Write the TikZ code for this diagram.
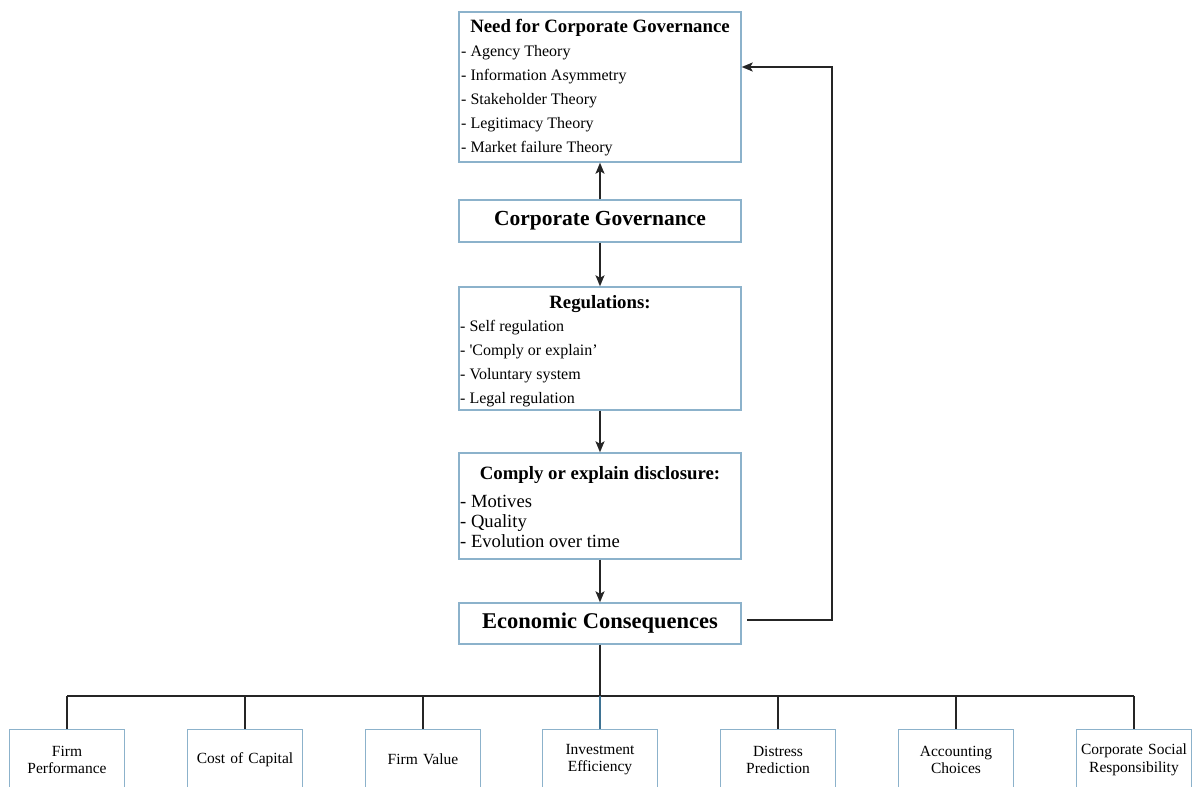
\documentclass[tikz,border=0pt]{standalone}
\usepackage{fontspec}
\setmainfont{Liberation Serif}
\usetikzlibrary{arrows.meta}
\definecolor{boxblue}{HTML}{8CB2CB}
\definecolor{linegray}{HTML}{252525}
\definecolor{dropblue}{HTML}{3F7393}

\begin{document}
\begin{tikzpicture}[x=1pt, y=-1pt,
    box/.style={draw=boxblue, line width=1.4pt, minimum width=282pt, inner sep=0pt},
    leaf/.style={draw=boxblue, line width=1.4pt, minimum width=115pt, minimum height=60pt,
        text width=112pt, align=center, inner sep=0pt, font=\fontsize{15.5}{17.5}\selectfont},
    item/.style={anchor=base west, inner sep=0pt, font=\fontsize{16}{19}\selectfont},
    title/.style={anchor=base, inner sep=0pt, font=\bfseries\fontsize{18.8}{22}\selectfont},
    link/.style={draw=linegray, line width=1.7pt},
    arrow/.style={link, -{Stealth[length=11pt, width=9pt, inset=2.5pt]}}]

    % Page frame
    \useasboundingbox (0,0) rectangle (1194,787);
    \clip (0,0) rectangle (1194,787);

    % Need for corporate governance
    \node[box, minimum height=150pt] (need) at (600,87) {};
    \node[title] (needtitle) at (600,32) {Need for Corporate Governance};
    \foreach \t [count=\i] in {Agency Theory, Information Asymmetry, Stakeholder Theory,
        Legitimacy Theory, Market failure Theory}
        \node[item] (need\i) at (461, 32+24*\i) {- \t};

    % Corporate governance
    \node[box, minimum height=42pt, font=\bfseries\fontsize{21.5}{24}\selectfont] (cg) at (600,221) {Corporate Governance};

    % Regulations
    \node[box, minimum height=123pt] (reg) at (600,348.5) {};
    \node[title] (regtitle) at (600,308) {Regulations:};
    \foreach \t [count=\i] in {Self regulation, \textquotesingle Comply or explain',
        Voluntary system, Legal regulation}
        \node[item] (reg\i) at (460, 307+24*\i) {- \t};

    % Comply or explain disclosure
    \node[box, minimum height=106pt] (comply) at (600,506) {};
    \node[title] (complytitle) at (600,479) {Comply or explain disclosure:};
    \foreach \t [count=\i] in {Motives, Quality, Evolution over time}
        \node[item, font=\fontsize{18.6}{21}\selectfont] (comply\i) at (460, 487+20*\i) {- \t};

    % Economic consequences
    \node[box, minimum height=41pt, font=\bfseries\fontsize{22.5}{25}\selectfont] (ec) at (600,623.5) {Economic Consequences};

    % Main chain
    \draw[arrow] (cg.north) -- (need.south);
    \draw[arrow] (cg.south) -- (reg.north);
    \draw[arrow] (reg.south) -- (comply.north);
    \draw[arrow] (comply.south) -- (ec.north);

    % Feedback loop
    \coordinate (fbstart) at (747,620);
    \draw[arrow] (fbstart) -- (832,620) -- (832,67) -- ([yshift=20pt]need.east);

    % Consequences
    \foreach \lx/\txt [count=\i] in {67/{Firm\\Performance}, 245/{Cost of Capital}, 423/{Firm Value},
        600/{Investment\\Efficiency}, 778/{Distress\\Prediction}, 956/{Accounting\\Choices},
        1134/{Corporate Social\\Responsibility}}
        \node[leaf, anchor=north] (leaf\i) at (\lx,729) {\txt};

    \coordinate (split) at (600,696);
    \draw[link] (leaf1.north |- split) -- (leaf7.north |- split);
    \draw[link] (ec.south) -- (split);
    \foreach \i in {1,2,3,5,6,7}
        \draw[link] (leaf\i.north |- split) -- (leaf\i.north);
    \draw[link, draw=dropblue] (split) -- (leaf4.north);

\end{tikzpicture}
\end{document}
